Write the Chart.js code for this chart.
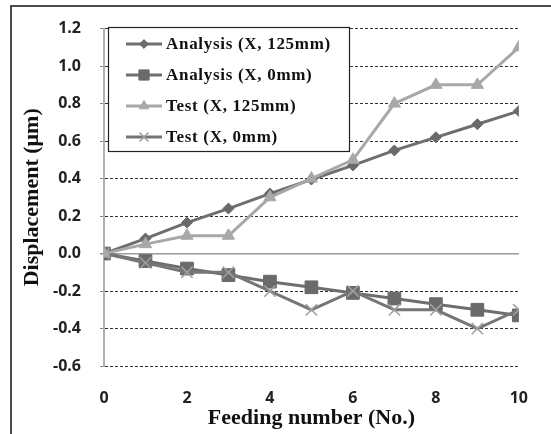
<!DOCTYPE html>
<html>
<head>
<meta charset="utf-8">
<script src="https://cdn.jsdelivr.net/npm/chart.js@4/dist/chart.umd.min.js"></script>
<style>
  html, body { margin: 0; padding: 0; background: #fff; }
  #wrap { position: relative; width: 551px; height: 434px; }
</style>
</head>
<body>
<div id="wrap"><canvas id="dispChart" width="551" height="434"></canvas></div>
<script>
// 数据
const feedingNo = [0, 1, 2, 3, 4, 5, 6, 7, 8, 9, 10];
const analysis125 = [0, 0.08, 0.165, 0.24, 0.32, 0.395, 0.47, 0.55, 0.62, 0.69, 0.76];
const analysis0 = [0, -0.04, -0.08, -0.115, -0.15, -0.18, -0.21, -0.24, -0.27, -0.30, -0.33];
const test125 = [0, 0.05, 0.095, 0.095, 0.30, 0.40, 0.50, 0.80, 0.90, 0.90, 1.10];
const test0 = [0, -0.05, -0.10, -0.10, -0.20, -0.30, -0.20, -0.30, -0.30, -0.40, -0.30];
const seriesNames = ['Analysis (X, 125mm)', 'Analysis (X, 0mm)', 'Test (X, 125mm)', 'Test (X, 0mm)'];

function toPoints(vals) {
    return feedingNo.map((x, i) => ({ x: x, y: vals[i] }));
}

// 外框 (上边和左边)
const framePlugin = {
    id: 'frame',
    beforeDraw(chart) {
        const ctx = chart.ctx;
        ctx.save();
        ctx.strokeStyle = '#111';
        ctx.lineWidth = 1.5;
        ctx.beginPath();
        ctx.moveTo(11, 434);
        ctx.lineTo(11, 6);
        ctx.lineTo(551, 6);
        ctx.stroke();
        ctx.restore();
    }
};

// 图例 (带边框, 图表内部)
const boxLegend = {
    id: 'boxLegend',
    afterDatasetsDraw(chart) {
        const ctx = chart.ctx;
        const bx = 108, by = 27, bw = 241, bh = 124;
        ctx.save();
        ctx.fillStyle = '#fff';
        ctx.fillRect(bx, by, bw, bh);
        ctx.strokeStyle = '#222';
        ctx.lineWidth = 1.2;
        ctx.strokeRect(bx + 0.5, by + 0.5, bw, bh);
        ctx.font = 'bold 17px "Liberation Serif", "Times New Roman", serif';
        ctx.letterSpacing = '0.7px';
        ctx.textBaseline = 'middle';
        chart.data.datasets.forEach((ds, i) => {
            const y = by + 17 + i * 31;
            ctx.strokeStyle = ds.borderColor;
            ctx.lineWidth = 3;
            ctx.beginPath();
            ctx.moveTo(126, y);
            ctx.lineTo(162, y);
            ctx.stroke();
            const opts = {
                pointStyle: ds.pointStyle,
                radius: ds.pointRadius * 0.8,
                borderWidth: ds.pointBorderWidth,
                rotation: 0
            };
            ctx.fillStyle = ds.pointBackgroundColor;
            ctx.strokeStyle = ds.pointBorderColor;
            ctx.lineWidth = ds.pointBorderWidth;
            Chart.helpers.drawPoint(ctx, opts, 144, y);
            ctx.fillStyle = '#111';
            ctx.fillText(ds.label, 166, y + 1);
        });
        ctx.restore();
    }
};

function isZero(c) {
    return c.tick && Math.abs(c.tick.value) < 1e-6;
}

function initChart() {
    const ctx = document.getElementById('dispChart').getContext('2d');
    const tickFont = { family: '"Open Sans", sans-serif', size: 16, weight: 'bold' };
    const titleFont = { family: '"Liberation Serif", "Times New Roman", serif', size: 22, weight: 'bold' };

    new Chart(ctx, {
        type: 'line',
        data: {
            datasets: [
                {
                    label: seriesNames[0], data: toPoints(analysis125), order: 3,
                    borderColor: '#6e6e6e', pointBackgroundColor: '#6a6a6a', pointBorderColor: '#6a6a6a',
                    pointStyle: 'rectRot', pointRadius: 5.5, pointBorderWidth: 1
                },
                {
                    label: seriesNames[1], data: toPoints(analysis0), order: 2,
                    borderColor: '#6e6e6e', pointBackgroundColor: '#6a6a6a', pointBorderColor: '#6a6a6a',
                    pointStyle: 'rect', pointRadius: 9, pointBorderWidth: 1
                },
                {
                    label: seriesNames[2], data: toPoints(test125), order: 0,
                    borderColor: '#a8a8a8', pointBackgroundColor: '#a8a8a8', pointBorderColor: '#a8a8a8',
                    pointStyle: 'triangle', pointRadius: 7, pointBorderWidth: 1
                },
                {
                    label: seriesNames[3], data: toPoints(test0), order: 1,
                    borderColor: '#767676', pointBackgroundColor: '#a0a0a0', pointBorderColor: '#a0a0a0',
                    pointStyle: 'crossRot', pointRadius: 8, pointBorderWidth: 1.5
                }
            ].map(ds => Object.assign({ borderWidth: 3, tension: 0, fill: false }, ds))
        },
        options: {
            responsive: false,
            animation: false,
            layout: { padding: { top: 17, right: 23, bottom: 0, left: 0 } },
            plugins: {
                legend: { display: false },
                tooltip: { enabled: false }
            },
            scales: {
                x: {
                    type: 'linear',
                    min: 0,
                    max: 10,
                    afterFit(scale) { scale.height = 68; },
                    ticks: { stepSize: 2, font: tickFont, color: '#222', padding: 23 },
                    grid: { display: false, drawTicks: false },
                    border: { display: false },
                    title: {
                        display: true, text: 'Feeding number (No.)', font: titleFont, color: '#111',
                        padding: { top: 0, bottom: 2 }
                    }
                },
                y: {
                    min: -0.6,
                    max: 1.2,
                    afterFit(scale) { scale.width = 104; },
                    ticks: {
                        stepSize: 0.2, font: tickFont, color: '#222', padding: 19,
                        callback: v => Number(v).toFixed(1)
                    },
                    grid: {
                        color: c => isZero(c) ? '#9a9a9a' : '#333',
                        lineWidth: c => isZero(c) ? 1.5 : 1,
                        tickColor: '#888',
                        tickLength: 4
                    },
                    border: {
                        display: true, color: '#b0b0b0', width: 2,
                        dash: c => isZero(c) ? [] : [3, 2]
                    },
                    title: {
                        display: true, text: 'Displacement (μm)', font: titleFont, color: '#111',
                        padding: { top: 19, bottom: 0 }
                    }
                }
            }
        },
        plugins: [framePlugin, boxLegend]
    });
}

document.addEventListener('DOMContentLoaded', initChart);
</script>
</body>
</html>
